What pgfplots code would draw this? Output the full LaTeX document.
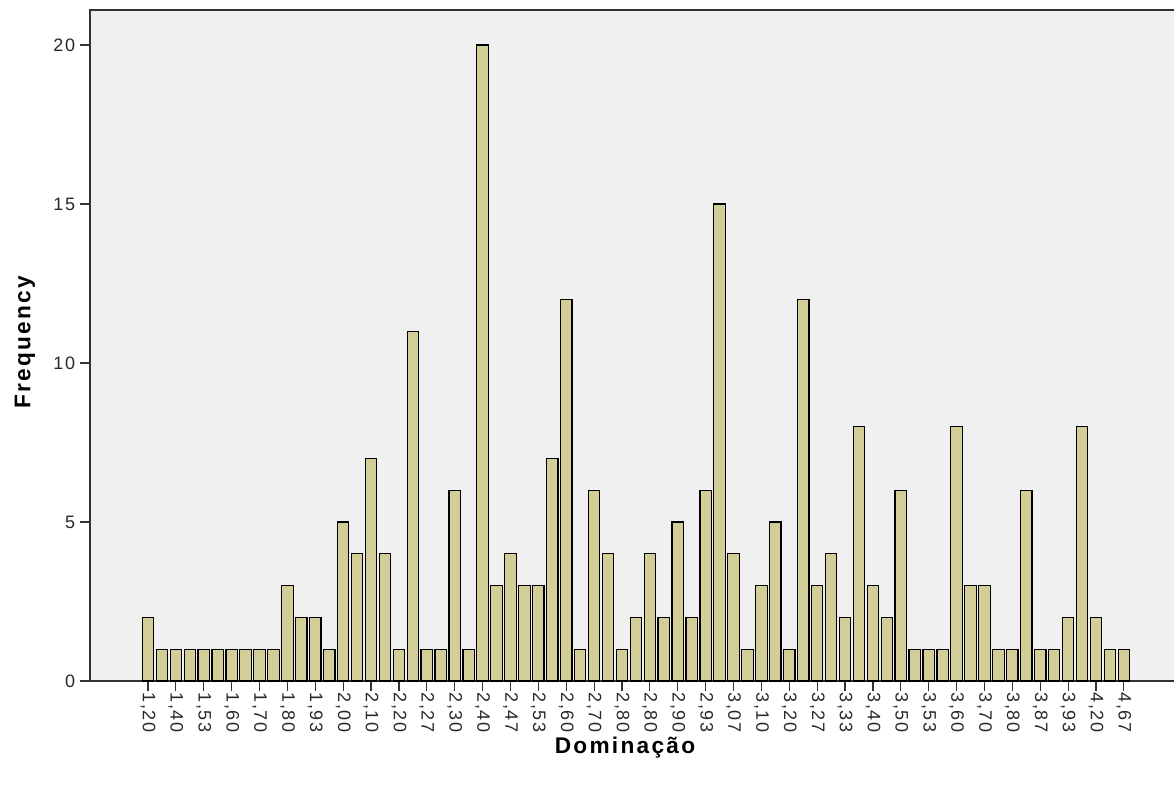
\documentclass[border=0pt]{standalone}
\usepackage{fontspec}
\setmainfont{Liberation Sans}
\newfontfamily\labfont[LetterSpace=10]{Liberation Sans}
\newfontfamily\tickfont[LetterSpace=9]{Liberation Sans}
\usepackage{pgfplots}
\pgfplotsset{compat=1.18}
\definecolor{barfill}{RGB}{211,206,151}
\definecolor{bggray}{RGB}{240,240,240}
\definecolor{ticktext}{RGB}{40,40,40}
\begin{document}
\begin{tikzpicture}
\useasboundingbox (-67.5pt,-84.75pt) rectangle (813pt,510.75pt);
\begin{axis}[
  scale only axis,
  width=814.5pt, height=503.25pt,
  at={(0,0)}, anchor=south west,
  xmin=-3.16, xmax=74.74,
  ymin=0, ymax=21.1,
  axis background/.style={fill=bggray},
  axis line style={draw=black!80, line width=1.1pt},
  xtick={1,3,...,71},
  xticklabels={{1,20},{1,40},{1,53},{1,60},{1,70},{1,80},{1,93},{2,00},{2,10},{2,20},{2,27},{2,30},{2,40},{2,47},{2,53},{2,60},{2,70},{2,80},{2,80},{2,90},{2,93},{3,07},{3,10},{3,20},{3,27},{3,33},{3,40},{3,50},{3,53},{3,60},{3,70},{3,80},{3,87},{3,93},{4,20},{4,67}},
  ytick={0,5,10,15,20},
  tick align=outside,
  major tick length=7.5pt,
  tick style={draw=black!80, line width=0.9pt},
  xtick pos=bottom, ytick pos=left,
  x tick label style={rotate=-90, anchor=west, font=\tickfont\fontsize{13.5}{15}\selectfont, text=ticktext, inner sep=1pt},
  y tick label style={font=\tickfont\fontsize{13.5}{15}\selectfont, text=ticktext, inner sep=3.5pt},
  /pgf/number format/assume math mode=true,
  xlabel={\labfont\bfseries Dominação},
  ylabel={\labfont\bfseries Frequency},
  label style={font=\fontsize{17}{20}\selectfont},
  xlabel style={at={(axis description cs:0.4926,0)}, anchor=center, yshift=-50pt},
  ylabel style={at={(axis description cs:-0.0599,0.505)}, anchor=center},
  clip=false,
]
\addplot[ybar, bar width=0.82, fill=barfill, draw=black, line width=0.9pt] coordinates {
(1,2)(2,1)(3,1)(4,1)(5,1)(6,1)(7,1)(8,1)(9,1)(10,1)(11,3)(12,2)(13,2)(14,1)(15,5)(16,4)(17,7)(18,4)(19,1)(20,11)(21,1)(22,1)(23,6)(24,1)(25,20)(26,3)(27,4)(28,3)(29,3)(30,7)(31,12)(32,1)(33,6)(34,4)(35,1)(36,2)(37,4)(38,2)(39,5)(40,2)(41,6)(42,15)(43,4)(44,1)(45,3)(46,5)(47,1)(48,12)(49,3)(50,4)(51,2)(52,8)(53,3)(54,2)(55,6)(56,1)(57,1)(58,1)(59,8)(60,3)(61,3)(62,1)(63,1)(64,6)(65,1)(66,1)(67,2)(68,8)(69,2)(70,1)(71,1)
};
\end{axis}
\end{tikzpicture}
\end{document}
